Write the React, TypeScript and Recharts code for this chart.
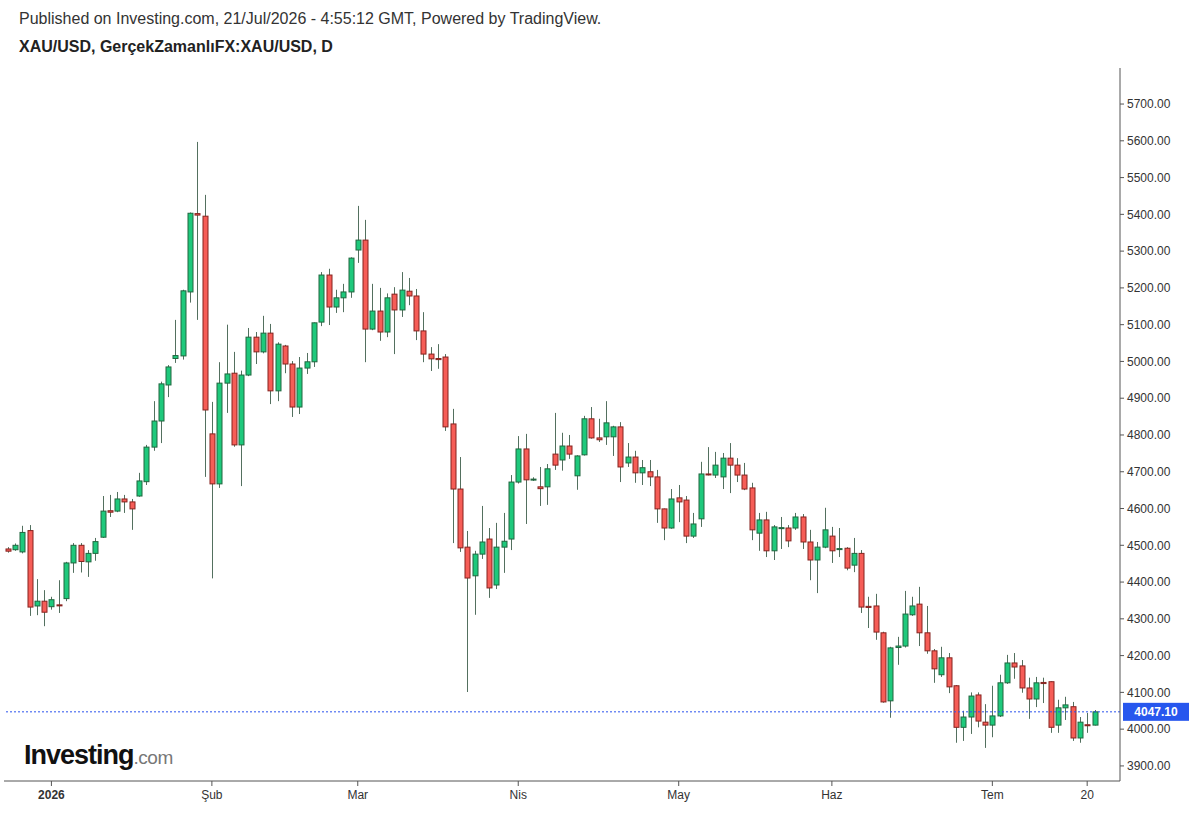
import React from 'react';
import { ComposedChart, Bar, XAxis, YAxis, ReferenceLine } from 'recharts';

// trading days (weekdays), plus a few empty slots on the right
const DATES = [
  '2025-12-24', '2025-12-25', '2025-12-26', '2025-12-29', '2025-12-30', '2025-12-31',
  '2026-01-01', '2026-01-02', '2026-01-05', '2026-01-06', '2026-01-07', '2026-01-08', '2026-01-09',
  '2026-01-12', '2026-01-13', '2026-01-14', '2026-01-15', '2026-01-16', '2026-01-19', '2026-01-20',
  '2026-01-21', '2026-01-22', '2026-01-23', '2026-01-26', '2026-01-27', '2026-01-28', '2026-01-29', '2026-01-30',
  '2026-02-02', '2026-02-03', '2026-02-04', '2026-02-05', '2026-02-06', '2026-02-09', '2026-02-10',
  '2026-02-11', '2026-02-12', '2026-02-13', '2026-02-16', '2026-02-17', '2026-02-18', '2026-02-19',
  '2026-02-20', '2026-02-23', '2026-02-24', '2026-02-25', '2026-02-26', '2026-02-27',
  '2026-03-02', '2026-03-03', '2026-03-04', '2026-03-05', '2026-03-06', '2026-03-09', '2026-03-10',
  '2026-03-11', '2026-03-12', '2026-03-13', '2026-03-16', '2026-03-17', '2026-03-18', '2026-03-19',
  '2026-03-20', '2026-03-23', '2026-03-24', '2026-03-25', '2026-03-26', '2026-03-27', '2026-03-30', '2026-03-31',
  '2026-04-01', '2026-04-02', '2026-04-03', '2026-04-06', '2026-04-07', '2026-04-08', '2026-04-09',
  '2026-04-10', '2026-04-13', '2026-04-14', '2026-04-15', '2026-04-16', '2026-04-17', '2026-04-20',
  '2026-04-21', '2026-04-22', '2026-04-23', '2026-04-24', '2026-04-27', '2026-04-28', '2026-04-29', '2026-04-30',
  '2026-05-01', '2026-05-04', '2026-05-05', '2026-05-06', '2026-05-07', '2026-05-08', '2026-05-11',
  '2026-05-12', '2026-05-13', '2026-05-14', '2026-05-15', '2026-05-18', '2026-05-19', '2026-05-20',
  '2026-05-21', '2026-05-22', '2026-05-25', '2026-05-26', '2026-05-27', '2026-05-28', '2026-05-29',
  '2026-06-01', '2026-06-02', '2026-06-03', '2026-06-04', '2026-06-05', '2026-06-08', '2026-06-09',
  '2026-06-10', '2026-06-11', '2026-06-12', '2026-06-15', '2026-06-16', '2026-06-17', '2026-06-18',
  '2026-06-19', '2026-06-22', '2026-06-23', '2026-06-24', '2026-06-25', '2026-06-26', '2026-06-29', '2026-06-30',
  '2026-07-01', '2026-07-02', '2026-07-03', '2026-07-06', '2026-07-07', '2026-07-08', '2026-07-09',
  '2026-07-10', '2026-07-13', '2026-07-14', '2026-07-15', '2026-07-16', '2026-07-17', '2026-07-20', '2026-07-21',
  '2026-07-22', '2026-07-23', '2026-07-24',
];

const OPEN = [
  4490, 4488, 4482, 4540, 4335, 4348, 4333, 4338, 4355, 4452, 4500, 4455, 4478, 4522, 4594, 4593, 4626, 4618, 4634, 4673,
  4767, 4838, 4936, 5008, 5015, 5189, 5402, 5395, 4803, 4667, 4941, 4968, 4773, 4963, 5066, 5026, 5077, 4920, 5042, 4993,
  4876, 4982, 4999, 5107, 5235, 5148, 5173, 5189, 5303, 5330, 5088, 5137, 5080, 5183, 5140, 5191, 5178, 5083, 5020, 5008,
  5012, 4830, 4653, 4495, 4417, 4476, 4517, 4392, 4495, 4517, 4672, 4762, 4678, 4659, 4659, 4748, 4732, 4770, 4689, 4746,
  4844, 4792, 4795, 4795, 4822, 4724, 4740, 4697, 4700, 4686, 4599, 4547, 4629, 4623, 4525, 4572, 4694, 4691, 4686, 4737,
  4718, 4691, 4656, 4533, 4569, 4485, 4546, 4547, 4547, 4577, 4509, 4460, 4495, 4525, 4489, 4492, 4446, 4478, 4334, 4335,
  4262, 4077, 4222, 4226, 4311, 4340, 4262, 4213, 4148, 4194, 4118, 4005, 4033, 4093, 4019, 4011, 4036, 4126, 4180, 4172,
  4112, 4082, 4127, 4129, 4011, 4058, 4061, 3976, 4012, 4011,
];
const HIGH = [
  4495, 4505, 4553, 4555, 4408, 4378, 4360, 4405, 4455, 4506, 4506, 4487, 4520, 4634, 4637, 4645, 4637, 4626, 4697, 4773,
  4892, 4945, 4990, 5113, 5195, 5405, 5597, 5453, 4890, 4998, 5100, 5026, 4975, 5091, 5080, 5124, 5102, 5052, 5045, 5001,
  5012, 5023, 5106, 5243, 5252, 5195, 5211, 5283, 5423, 5385, 5211, 5200, 5185, 5202, 5243, 5227, 5197, 5134, 5039, 5047,
  5020, 4871, 4740, 4539, 4485, 4607, 4547, 4561, 4588, 4691, 4797, 4803, 4685, 4713, 4721, 4860, 4806, 4800, 4745, 4852,
  4876, 4844, 4892, 4825, 4835, 4778, 4757, 4732, 4732, 4705, 4600, 4653, 4664, 4634, 4588, 4727, 4767, 4754, 4751, 4778,
  4737, 4724, 4670, 4588, 4591, 4555, 4577, 4555, 4588, 4585, 4542, 4509, 4602, 4550, 4547, 4495, 4520, 4487, 4360, 4368,
  4265, 4224, 4251, 4376, 4360, 4387, 4335, 4218, 4224, 4207, 4120, 4050, 4100, 4100, 4068, 4118, 4148, 4202, 4207, 4188,
  4140, 4142, 4140, 4130, 4080, 4088, 4074, 4033, 4044, 4052,
];
const LOW = [
  4480, 4485, 4478, 4308, 4310, 4280, 4325, 4316, 4348, 4425, 4426, 4414, 4458, 4520, 4577, 4590, 4588, 4542, 4632, 4664,
  4757, 4778, 4903, 4996, 5005, 5160, 5113, 4686, 4410, 4656, 4860, 4768, 4661, 4960, 4993, 5022, 4884, 4892, 4968, 4849,
  4857, 4966, 4985, 5096, 5099, 5132, 5134, 5173, 5268, 4998, 5085, 5056, 5066, 5020, 5121, 5153, 5058, 4998, 4974, 4980,
  4811, 4506, 4482, 4101, 4311, 4463, 4357, 4381, 4425, 4487, 4668, 4558, 4675, 4607, 4610, 4705, 4703, 4735, 4651, 4744,
  4790, 4781, 4773, 4743, 4672, 4713, 4670, 4664, 4661, 4561, 4514, 4545, 4563, 4506, 4520, 4550, 4690, 4683, 4653, 4642,
  4672, 4650, 4514, 4485, 4468, 4460, 4490, 4495, 4542, 4490, 4405, 4370, 4492, 4452, 4468, 4432, 4427, 4316, 4275, 4243,
  4072, 4031, 4175, 4222, 4308, 4226, 4205, 4126, 4142, 4098, 3963, 3968, 3987, 4005, 3949, 3978, 4033, 4123, 4137, 4099,
  4028, 4060, 4071, 3990, 3990, 4025, 3968, 3963, 3990, 4010,
];
const CLOSE = [
  4484, 4500, 4535, 4332, 4348, 4318, 4352, 4336, 4452, 4500, 4456, 4478, 4510, 4593, 4590, 4626, 4618, 4599, 4675, 4767,
  4838, 4939, 4985, 5016, 5192, 5403, 5398, 4868, 4667, 4941, 4966, 4773, 4963, 5066, 5026, 5077, 4920, 5047, 4993, 4876,
  4982, 4999, 5105, 5235, 5148, 5173, 5189, 5281, 5330, 5088, 5137, 5080, 5173, 5140, 5194, 5178, 5083, 5020, 5007, 5005,
  4822, 4653, 4493, 4411, 4476, 4509, 4384, 4495, 4511, 4672, 4762, 4678, 4680, 4654, 4708, 4718, 4770, 4748, 4743, 4844,
  4792, 4787, 4833, 4822, 4713, 4740, 4697, 4711, 4686, 4599, 4547, 4626, 4618, 4525, 4558, 4694, 4692, 4718, 4737, 4718,
  4691, 4653, 4542, 4569, 4485, 4550, 4548, 4512, 4577, 4509, 4460, 4495, 4542, 4485, 4491, 4438, 4478, 4332, 4331, 4264,
  4074, 4221, 4226, 4313, 4335, 4262, 4213, 4164, 4194, 4115, 4005, 4033, 4090, 4022, 4011, 4036, 4126, 4180, 4169, 4112,
  4082, 4126, 4124, 4005, 4058, 4066, 3976, 4019, 4010, 4047.1,
];

const LAST_PRICE = 4047.1;
const PRICE_TICKS = [3900, 4000, 4100, 4200, 4300, 4400, 4500, 4600, 4700, 4800, 4900, 5000, 5100, 5200, 5300, 5400, 5500, 5600, 5700];
const DATE_TICKS = ['2026-01-01', '2026-02-02', '2026-03-02', '2026-04-01', '2026-05-01', '2026-06-01', '2026-07-01', '2026-07-20'];
const DATE_LABELS = ['2026', 'Şub', 'Mar', 'Nis', 'May', 'Haz', 'Tem', '20'];

const UP_FILL = '#1ec97c';
const UP_EDGE = '#21663f';
const DOWN_FILL = '#f65d57';
const DOWN_EDGE = '#86231f';
const WICK = '#53705f';
const FONT = '"Liberation Sans", Arial, sans-serif';

const data = DATES.map((date, i) => ({
  date,
  range: i < OPEN.length ? [LOW[i], HIGH[i]] : null,
  open: OPEN[i],
  high: HIGH[i],
  low: LOW[i],
  close: CLOSE[i],
}));

const Candle = (props: any) => {
  const { x, y, width, height, payload } = props;
  if (!payload || payload.open == null || height == null) return null;
  const { open, high, low, close } = payload;
  const top = Math.min(y, y + height);
  const h = Math.abs(height);
  const ratio = high > low ? h / (high - low) : 0;
  const cx = Math.round(x + width / 2) + 0.5;
  const bTop = top + (high - Math.max(open, close)) * ratio;
  const bBot = top + (high - Math.min(open, close)) * ratio;
  const up = close >= open;
  return (
    <g>
      <line x1={cx} x2={cx} y1={top} y2={top + h} stroke={WICK} strokeWidth={1} />
      <rect
        x={cx - 2.5}
        y={bTop}
        width={5}
        height={Math.max(bBot - bTop, 1)}
        fill={up ? UP_FILL : DOWN_FILL}
        stroke={up ? UP_EDGE : DOWN_EDGE}
        strokeWidth={1}
      />
    </g>
  );
};

const DateTick = (props: any) => {
  const { x, y, payload } = props;
  const idx = DATE_TICKS.indexOf(payload.value);
  const label = idx >= 0 ? DATE_LABELS[idx] : '';
  return (
    <text x={x} y={y + 11} textAnchor="middle" fontSize={12} fill="#333"
      fontWeight={label === '2026' ? 'bold' : 'normal'} fontFamily={FONT}>
      {label}
    </text>
  );
};

const PriceTag = (props: any) => {
  const vb = props.viewBox;
  if (!vb) return null;
  const x = vb.x + vb.width;
  const y = vb.y;
  return (
    <g>
      <rect x={x + 3} y={y - 9} width={66} height={18} fill="#2757ee" />
      <text x={x + 36} y={y + 4.5} textAnchor="middle" fontSize={12} fontWeight="bold" fill="#fff" fontFamily={FONT}>
        {LAST_PRICE.toFixed(2)}
      </text>
    </g>
  );
};

export default function App() {
  return (
    <div style={{ position: 'absolute', left: 0, top: 0, width: 1200, height: 814, background: '#fff', fontFamily: FONT }}>
      <div style={{ position: 'absolute', left: 19, top: 10, fontSize: 16, color: '#333', whiteSpace: 'nowrap' }}>
        Published on Investing.com, 21/Jul/2026 - 4:55:12 GMT, Powered by TradingView.
      </div>
      <div style={{ position: 'absolute', left: 19, top: 38, fontSize: 16, fontWeight: 'bold', color: '#222', whiteSpace: 'nowrap' }}>
        XAU/USD, GerçekZamanlıFX:XAU/USD, D
      </div>
      <div style={{ position: 'absolute', left: 0, top: 0 }}>
        <ComposedChart width={1200} height={814} data={data} margin={{ top: 68, right: 0, bottom: 0, left: 4 }}>
          <XAxis
            dataKey="date"
            ticks={DATE_TICKS}
            interval={0}
            tick={<DateTick />}
            tickSize={5}
            height={33}
            axisLine={{ stroke: '#555' }}
            tickLine={{ stroke: '#555' }}
          />
          <YAxis
            orientation="right"
            width={80}
            domain={[3859, 5798]}
            allowDataOverflow
            ticks={PRICE_TICKS}
            tickFormatter={(v: number) => v.toFixed(2)}
            tick={{ fontSize: 12, fill: '#333', fontFamily: FONT }}
            tickSize={4}
            tickMargin={3}
            axisLine={{ stroke: '#555' }}
            tickLine={{ stroke: '#555' }}
          />
          <ReferenceLine y={LAST_PRICE} stroke="#2b52ee" strokeDasharray="2 2" label={PriceTag} />
          <Bar dataKey="range" shape={<Candle />} isAnimationActive={false} />
        </ComposedChart>
      </div>
      <div style={{ position: 'absolute', left: 24, top: 740, whiteSpace: 'nowrap', lineHeight: '30px' }}>
        <span style={{ fontSize: 27, fontWeight: 'bold', color: '#111', letterSpacing: -1 }}>Investing</span>
        <span style={{ fontSize: 19, color: '#777', letterSpacing: -0.5 }}>.com</span>
      </div>
    </div>
  );
}
